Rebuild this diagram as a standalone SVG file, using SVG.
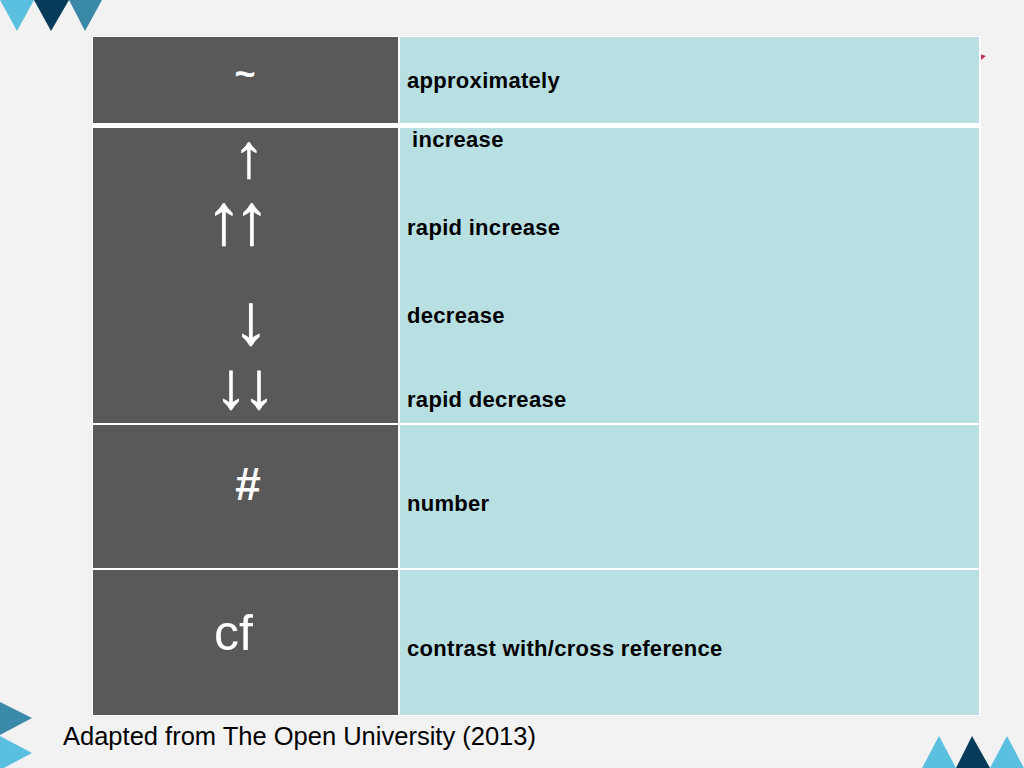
<svg xmlns="http://www.w3.org/2000/svg" width="1024" height="768" viewBox="0 0 1024 768">
<style>
.bg{fill:#f2f2f2}
.dark{fill:#595959}
.light{fill:#b8dfe2}
.def{font-family:"Liberation Sans",Arial,sans-serif;font-weight:bold;font-size:22px;letter-spacing:0.3px;fill:#000}
.sym{font-family:"Liberation Sans",Arial,sans-serif;fill:#fff}
.arr{font-family:"Liberation Serif","DejaVu Serif",serif;fill:#fff;stroke:#fff;stroke-width:0.6;text-anchor:middle}
.tri1{fill:#5bc0e0}
.tri2{fill:#073b5a}
.tri3{fill:#3a89a8}
</style>
<rect class="bg" x="0" y="0" width="1024" height="768"/>
<g id="decor">
<polygon class="tri1" points="0,0 34,0 17,31"/>
<polygon class="tri2" points="34,0 69,0 51,31"/>
<polygon class="tri3" points="69,0 102,0 85,31"/>
<polygon class="tri3" points="0,702 32,718 0,735"/>
<polygon class="tri1" points="0,736 32,753 0,770"/>
<polygon class="tri1" points="922,768 939,736 956,768"/>
<polygon class="tri2" points="956,768 972,736 990,768"/>
<polygon class="tri1" points="990,768 1007,736 1024,768"/>
<polygon points="980,54 986,56 981,60" fill="#c0305a"/>
</g>
<rect x="92" y="36" width="889" height="680" fill="#ffffff"/>
<g id="row-approx">
<rect class="dark" x="93" y="37" width="305" height="86"/>
<rect class="light" x="400" y="37" width="579" height="86"/>
<text class="sym" x="245" y="86" font-size="36" font-weight="bold" text-anchor="middle">~</text>
<text class="def" x="407" y="88">approximately</text>
</g>
<g id="row-arrows">
<rect class="dark" x="93" y="128" width="305" height="295"/>
<rect class="light" x="400" y="128" width="579" height="295"/>
<text class="arr"><tspan x="249" y="177" font-size="62">↑</tspan><tspan x="224 252" y="244" font-size="72">↑↑</tspan><tspan x="251" y="344" font-size="72">↓</tspan><tspan x="231 259" y="408" font-size="66">↓↓</tspan></text>
<text class="def" x="412" y="147">increase</text>
<text class="def" x="407" y="235">rapid increase</text>
<text class="def" x="407" y="323">decrease</text>
<text class="def" x="407" y="407">rapid decrease</text>
</g>
<g id="row-number">
<rect class="dark" x="93" y="425" width="305" height="143"/>
<rect class="light" x="400" y="425" width="579" height="143"/>
<text class="sym" x="248" y="500" font-size="46" font-weight="bold" text-anchor="middle">#</text>
<text class="def" x="407" y="511">number</text>
</g>
<g id="row-cf">
<rect class="dark" x="93" y="570" width="305" height="145"/>
<rect class="light" x="400" y="570" width="579" height="145"/>
<text class="sym" x="214" y="650" font-size="50">cf</text>
<text class="def" x="407" y="656">contrast with/cross reference</text>
</g>
<text x="63" y="745" font-family="'Liberation Sans',Arial,sans-serif" font-size="25.5" fill="#000">Adapted from The Open University (2013)</text>
</svg>
